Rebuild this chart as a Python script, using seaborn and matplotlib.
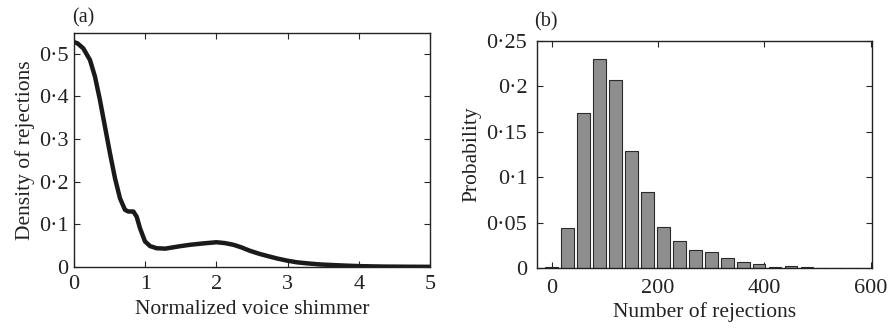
import numpy as np
import pandas as pd
import seaborn as sns
import matplotlib.pyplot as plt

# (a) density curve of rejections vs normalized voice shimmer
shimmer = [0.0, 0.05, 0.13, 0.225, 0.295, 0.365, 0.435, 0.506, 0.576, 0.646, 0.716,
           0.763, 0.80, 0.834, 0.88, 0.927, 0.997, 1.068, 1.16, 1.28, 1.39, 1.50,
           1.63, 1.80, 2.0, 2.12, 2.24, 2.35, 2.47, 2.60, 2.71, 2.85, 2.99, 3.13,
           3.27, 3.45, 3.64, 3.85, 4.02, 4.34, 4.7, 5.0]
density = [0.527, 0.524, 0.5125, 0.485, 0.446, 0.391, 0.329, 0.266, 0.208, 0.161, 0.134,
           0.130, 0.130, 0.130, 0.118, 0.091, 0.060, 0.049, 0.044, 0.043, 0.046, 0.049,
           0.052, 0.055, 0.058, 0.056, 0.052, 0.046, 0.038, 0.031, 0.026, 0.020, 0.015, 0.011,
           0.0086, 0.006, 0.0045, 0.003, 0.002, 0.001, 0.0006, 0.0004]

# (b) histogram of number of rejections
rejections = [0, 30, 60, 90, 120, 150, 180, 210, 240, 270, 300, 330, 360, 390,
              420, 450, 480, 510, 540, 570]
probability = [0.0008, 0.044, 0.171, 0.230, 0.207, 0.129, 0.084, 0.045, 0.030, 0.0195,
               0.0173, 0.0114, 0.0062, 0.0048, 0.0015, 0.0022, 0.0015, 0.0004, 0.0003, 0.0003]

ticks_a_y = [0, 0.1, 0.2, 0.3, 0.4, 0.5]
labels_a_y = ["0", "0·1", "0·2", "0·3", "0·4", "0·5"]
ticks_b_y = [0, 0.05, 0.1, 0.15, 0.2, 0.25]
labels_b_y = ["0", "0·05", "0·1", "0·15", "0·2", "0·25"]

sns.set_style("ticks")
plt.rcParams["font.family"] = ["Liberation Serif", "DejaVu Serif"]
plt.rcParams["xtick.direction"] = "in"
plt.rcParams["ytick.direction"] = "in"
plt.rcParams["xtick.top"] = True
plt.rcParams["ytick.right"] = True
plt.rcParams["axes.edgecolor"] = "#222222"
plt.rcParams["axes.linewidth"] = 1.0

txt = "#222222"
fig = plt.figure(figsize=(8.88, 3.28), dpi=100)
ax1 = fig.add_axes([0.0833, 0.186, 0.401, 0.713])
ax2 = fig.add_axes([0.6047, 0.183, 0.377, 0.693])

df_a = pd.DataFrame({"shimmer": shimmer, "density": density})
sns.lineplot(data=df_a, x="shimmer", y="density", color="#1a1a1a", linewidth=3.2, ax=ax1)
ax1.set_xlim(0, 5)
ax1.set_ylim(0, 0.548)
ax1.set_xticks([0, 1, 2, 3, 4, 5])
ax1.set_yticks(ticks_a_y)
ax1.set_yticklabels(labels_a_y)
ax1.set_xlabel("Normalized voice shimmer", fontsize=15.5, color=txt, labelpad=4)
ax1.set_ylabel("Density of rejections", fontsize=15.5, color=txt, labelpad=3)
ax1.tick_params(axis="x", length=4, width=0.8, labelsize=16, pad=6, labelcolor=txt)
ax1.tick_params(axis="y", length=4, width=0.8, labelsize=16, pad=4, labelcolor=txt)
ax1.text(-0.005, 1.025, "(a)", transform=ax1.transAxes, fontsize=14.5, ha="left",
         va="bottom", color=txt)

df_b = pd.DataFrame({"rejections": rejections, "probability": probability})
sns.barplot(data=df_b, x="rejections", y="probability", native_scale=True,
            color="#8e8e8e", saturation=1, edgecolor="#2a2a2a", linewidth=0.8, ax=ax2)
ax2.set_xlim(-28, 602)
ax2.set_ylim(0, 0.25)
ax2.set_xticks([0, 200, 400, 600])
ax2.set_xticklabels(["0", "200", "400", "600"])
ax2.set_yticks(ticks_b_y)
ax2.set_yticklabels(labels_b_y)
ax2.set_xlabel("Number of rejections", fontsize=15.5, color=txt, labelpad=3)
ax2.set_ylabel("Probability", fontsize=15.5, color=txt, labelpad=4)
ax2.tick_params(axis="x", length=4, width=0.8, labelsize=16, pad=8, labelcolor=txt)
ax2.tick_params(axis="y", length=4, width=0.8, labelsize=16, pad=7, labelcolor=txt)
ax2.text(-0.01, 1.04, "(b)", transform=ax2.transAxes, fontsize=14.5, ha="left",
         va="bottom", color=txt)

for ax in (ax1, ax2):
    for s in ax.spines.values():
        s.set_visible(True)

fig.savefig("out.png", dpi=100)
